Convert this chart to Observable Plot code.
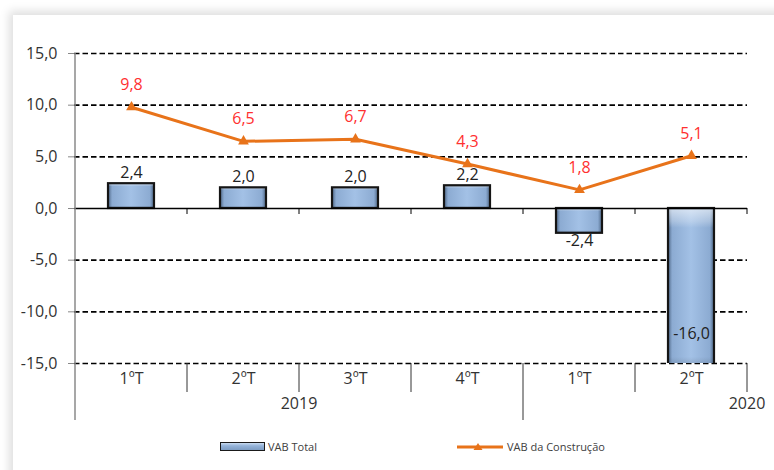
<!DOCTYPE html>
<html>
<head>
<meta charset="utf-8">
<script src="https://cdn.jsdelivr.net/npm/d3@7"></script>
<script src="https://cdn.jsdelivr.net/npm/@observablehq/plot@0.6"></script>
<style>
  html, body { margin: 0; padding: 0; background: #fff; width: 774px; height: 470px; overflow: hidden; font-family: "Open Sans", sans-serif; }
  #card { position: absolute; left: 13px; top: 15px; width: 820px; height: 520px; background: #fff; box-shadow: 0 0 9px 4px rgba(0,0,0,0.13); }
  #chart { position: absolute; left: 0; top: 0; }
  #legend { position: absolute; left: 0; top: 0; width: 774px; height: 470px; pointer-events: none; font-size: 11px; color: #404040; }
  .lg { position: absolute; }
</style>
</head>
<body>
<div id="card"></div>
<div id="chart"></div>
<div id="legend"></div>
<script>
// Quarterly change (%) of gross value added
const quarters = ["1ºT", "2ºT", "3ºT", "4ºT", "1ºT", "2ºT"];
const years = ["2019", "2019", "2019", "2019", "2020", "2020"];
const vabTotal = [2.4, 2.0, 2.0, 2.2, -2.4, -16.0];
const vabConstrucao = [9.8, 6.5, 6.7, 4.3, 1.8, 5.1];
const yTicks = [-15, -10, -5, 0, 5, 10, 15];
const seriesNames = ["VAB Total", "VAB da Construção"];

const yMin = -15, yMax = 15;
const fmt = v => v.toFixed(1).replace(".", ",");

const rows = quarters.map((q, i) => ({
  key: `${years[i]} ${q}`,
  quarter: q,
  year: years[i],
  total: vabTotal[i],
  construcao: vabConstrucao[i]
}));
const keys = rows.map(d => d.key);
const quarterOf = new Map(rows.map(d => [d.key, d.quarter]));

const orange = "#E8731A";
const labelRed = "#FF3030";
const barStroke = "#151515";
const textColor = "#333333";

const barInset = 33;

const plot = Plot.plot({
  width: 774,
  height: 430,
  marginLeft: 74,
  marginRight: 27,
  marginTop: 53,
  marginBottom: 67,
  x: { type: "band", domain: keys, padding: 0 },
  y: { domain: [yMin, yMax] },
  style: { fontFamily: "Open Sans, sans-serif", fontSize: "16px", color: textColor, background: "transparent", overflow: "visible" },
  marks: [
    Plot.gridY({ ticks: yTicks.filter(t => t !== 0), stroke: "#000", strokeOpacity: 1, strokeWidth: 1.6, strokeDasharray: "5.5,3" }),
    Plot.axisY({ ticks: yTicks, tickFormat: fmt, tickSize: 6, tickPadding: 11, stroke: "#888", fill: textColor, fontSize: 16, label: null }),
    Plot.axisX({ tickSize: 0, tickPadding: 9, tickFormat: k => quarterOf.get(k), fill: textColor, fontSize: 16, label: null }),
    // bars: shaded body plus a bevel overlay
    Plot.barY(rows, { x: "key", y: "total", insetLeft: barInset, insetRight: barInset, fill: "url(#barBody)", clip: true }),
    Plot.barY(rows, { x: "key", y: "total", insetLeft: barInset, insetRight: barInset, fill: "url(#barBevel)", stroke: barStroke, strokeWidth: 2.2, clip: true }),
    Plot.ruleY([0], { stroke: "#000", strokeWidth: 1.3 }),
    // bar value labels
    Plot.text(rows.filter(d => d.total >= 0), { x: "key", y: "total", text: d => fmt(d.total), dy: -11, fill: "#222", fontSize: 16 }),
    Plot.text(rows.filter(d => d.total < 0 && d.total >= yMin), { x: "key", y: "total", text: d => fmt(d.total), dy: 8, fill: "#222", fontSize: 16 }),
    Plot.text(rows.filter(d => d.total < yMin), { x: "key", y: () => yMin, text: d => fmt(d.total), dy: -30, fill: "#222", fontSize: 16 }),
    // construction line
    Plot.line(rows, { x: "key", y: "construcao", stroke: orange, strokeWidth: 3 }),
    Plot.dot(rows, { x: "key", y: "construcao", symbol: "triangle", r: 4, fill: orange }),
    Plot.text(rows, { x: "key", y: "construcao", text: d => fmt(d.construcao), dy: -22, fill: labelRed, fontSize: 16 })
  ]
});

// gradients used by the bars
plot.insertAdjacentHTML("afterbegin", `
<defs>
  <linearGradient id="barBody" x1="0" y1="0" x2="1" y2="0">
    <stop offset="0%" stop-color="#4d6685"/>
    <stop offset="9%" stop-color="#8cabd2"/>
    <stop offset="50%" stop-color="#a3c1e6"/>
    <stop offset="91%" stop-color="#8cabd2"/>
    <stop offset="100%" stop-color="#4d6685"/>
  </linearGradient>
  <linearGradient id="barBevel" x1="0" y1="0" x2="0" y2="1">
    <stop offset="0%" stop-color="#ffffff" stop-opacity="0.6"/>
    <stop offset="8%" stop-color="#ffffff" stop-opacity="0.25"/>
    <stop offset="12%" stop-color="#ffffff" stop-opacity="0"/>
    <stop offset="90%" stop-color="#000000" stop-opacity="0"/>
    <stop offset="100%" stop-color="#000000" stop-opacity="0.25"/>
  </linearGradient>
</defs>`);

document.getElementById("chart").appendChild(plot);

// category axis decorations: vertical axis line, band separators and year labels
const sx = plot.scale("x");
const sy = plot.scale("y");
const bw = sx.bandwidth;
const step = sx.step;
const svg = d3.select(plot);
const g = svg.append("g");
const y0 = sy.apply(0), yBottom = sy.apply(yMin), yTop = sy.apply(yMax);
const leftEdge = sx.apply(keys[0]);
const rightEdges = keys.map(k => sx.apply(k) + bw);
const yearStart = new Map();
rows.forEach(d => { if (!yearStart.has(d.year)) yearStart.set(d.year, d.key); });

// small ticks below the zero line
g.selectAll(".zt").data(rightEdges).join("line")
  .attr("x1", d => d).attr("x2", d => d)
  .attr("y1", y0).attr("y2", y0 + 6)
  .attr("stroke", "#000").attr("stroke-width", 1);

// separators under the frame
g.selectAll(".sep").data(rightEdges).join("line")
  .attr("x1", d => d).attr("x2", d => d)
  .attr("y1", yBottom)
  .attr("y2", d => {
    const isYear = [...yearStart.values()].some(k => Math.abs(sx.apply(k) - d) < 0.5);
    return yBottom + (isYear ? 57 : 29);
  })
  .attr("stroke", "#333").attr("stroke-width", 1);

// vertical axis line, extended down as the first year separator
g.append("line")
  .attr("x1", leftEdge).attr("x2", leftEdge)
  .attr("y1", yTop).attr("y2", yBottom + 57)
  .attr("stroke", "#8a8a8a").attr("stroke-width", 1.5);

// year labels, centred on a four-quarter span
g.selectAll(".yr").data([...yearStart.entries()]).join("text")
  .attr("x", ([, k]) => sx.apply(k) + 2 * step)
  .attr("y", yBottom + 46)
  .attr("text-anchor", "middle")
  .attr("fill", textColor)
  .attr("font-size", 16)
  .attr("font-family", "Open Sans, sans-serif")
  .text(([y]) => y);

// legend
const legend = document.getElementById("legend");
legend.innerHTML = `
  <div class="lg" style="left:220px;top:442px;width:43px;height:7px;border:1.5px solid #1a1a1a;background:linear-gradient(#c9dbf0,#94b3d9 40%,#7d9cc2);"></div>
  <div class="lg" style="left:268px;top:438px;line-height:18px;">${seriesNames[0]}</div>
  <svg class="lg" style="left:455px;top:440px;" width="50" height="14">
    <line x1="2" x2="48" y1="7" y2="7" stroke="${orange}" stroke-width="3"/>
    <path d="M23,3 L27.5,10 L18.5,10 Z" fill="${orange}"/>
  </svg>
  <div class="lg" style="left:507px;top:438px;line-height:18px;">${seriesNames[1]}</div>
`;
</script>
</body>
</html>
